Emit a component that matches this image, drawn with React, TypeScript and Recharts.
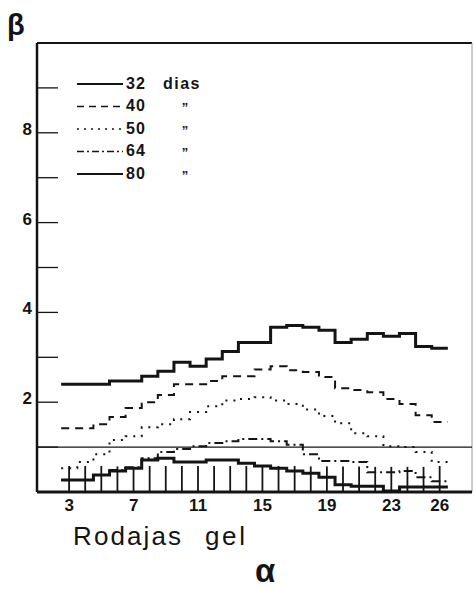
import React from "react";
import {
  Bar,
  ComposedChart,
  Legend,
  Line,
  ReferenceLine,
  XAxis,
  YAxis,
} from "recharts";

// rodajas de gel (eje alfa) y valores beta
const rodajas = [3, 4, 5, 6, 7, 8, 9, 10, 11, 12, 13, 14, 15, 16, 17, 18, 19, 20, 21, 22, 23, 24, 25, 26];
const dias32 = [2.4, 2.4, 2.4, 2.47, 2.47, 2.58, 2.69, 2.89, 2.8, 2.96, 3.13, 3.33, 3.33, 3.67, 3.71, 3.67, 3.6, 3.33, 3.4, 3.53, 3.47, 3.53, 3.24, 3.2];
const dias40 = [1.42, 1.42, 1.51, 1.67, 1.87, 2.0, 2.16, 2.4, 2.4, 2.47, 2.58, 2.58, 2.73, 2.8, 2.71, 2.67, 2.56, 2.31, 2.27, 2.22, 2.07, 1.96, 1.71, 1.56];
const dias50 = [0.53, 0.67, 0.84, 1.16, 1.24, 1.44, 1.51, 1.62, 1.78, 1.91, 2.04, 2.07, 2.11, 2.04, 1.96, 1.84, 1.69, 1.53, 1.31, 1.24, 1.02, 1.0, 0.89, 0.67];
const dias64 = [0.27, 0.27, 0.38, 0.49, 0.55, 0.75, 0.89, 0.96, 1.02, 1.09, 1.13, 1.18, 1.18, 1.13, 1.05, 0.84, 0.69, 0.69, 0.67, 0.44, 0.44, 0.47, 0.33, 0.24];
const dias80 = [0.27, 0.27, 0.38, 0.47, 0.53, 0.71, 0.75, 0.67, 0.67, 0.71, 0.71, 0.64, 0.58, 0.53, 0.47, 0.42, 0.33, 0.16, 0.13, 0.13, 0.02, 0.11, 0.11, 0.11];
const marcas = [0.58, 0.58, 0.58, 0.57, 0.56, 0.58, 0.58, 0.58, 0.58, 0.58, 0.58, 0.58, 0.58, 0.58, 0.58, 0.57, 0.57, 0.57, 0.57, 0.56, 0.56, 0.56, 0.56, 0.58];

const ticksX = [3, 7, 11, 15, 19, 23, 26];
const ticksY = [1, 2, 3, 4, 5, 6, 7, 8, 9];
const etiquetasY = [2, 4, 6, 8];

const FUENTE = '"Liberation Sans", Arial, Helvetica, sans-serif';
const TINTA = "#141414";

const series = [
  { key: "d32", nombre: "32", valores: dias32, dash: undefined, ancho: 3, leyendaDash: undefined, leyendaAncho: 2.2 },
  { key: "d40", nombre: "40", valores: dias40, dash: "8 6", ancho: 2, leyendaDash: "7 5", leyendaAncho: 1.6 },
  { key: "d50", nombre: "50", valores: dias50, dash: "2 6", ancho: 2, leyendaDash: "2 5", leyendaAncho: 1.6 },
  { key: "d64", nombre: "64", valores: dias64, dash: "9 4 2 4", ancho: 2, leyendaDash: "7 3 2 3", leyendaAncho: 1.6 },
  { key: "d80", nombre: "80", valores: dias80, dash: undefined, ancho: 3, leyendaDash: undefined, leyendaAncho: 2.2 },
];

// escalones: borde izquierdo y centro de cada rodaja, mas el borde final
const fila = (x: number, i: number, marca?: number) => {
  const r: Record<string, number | undefined> = { x, marca };
  series.forEach((s) => (r[s.key] = s.valores[i]));
  return r;
};
const data: Record<string, number | undefined>[] = [];
rodajas.forEach((s, i) => {
  data.push(fila(s - 0.5, i));
  data.push(fila(s, i, marcas[i]));
});
data.push(fila(rodajas[rodajas.length - 1] + 0.5, rodajas.length - 1));

const TickY = (props: any) => {
  const { x, y, payload } = props;
  const v = payload.value;
  return (
    <g>
      <line x1={x + 5} x2={x + 26} y1={y} y2={y} stroke={TINTA} strokeWidth={1.3} />
      {etiquetasY.includes(v) && (
        <text
          x={x}
          y={y - 4}
          dy="0.35em"
          textAnchor="end"
          fontSize={17}
          fontWeight={700}
          fontFamily={FUENTE}
          fill={TINTA}
        >
          {v}
        </text>
      )}
    </g>
  );
};

const Leyenda = () => (
  <svg width={160} height={110}>
    {series.map((s, i) => {
      const y = 10 + i * 22.5;
      return (
        <g key={s.key} fontFamily={FUENTE} fontWeight={700} fontSize={16} fill={TINTA}>
          <line
            x1={0}
            x2={46}
            y1={y + 1}
            y2={y + 1}
            stroke={TINTA}
            strokeWidth={s.leyendaAncho}
            strokeDasharray={s.leyendaDash}
          />
          <text x={49} y={y} dy="0.35em" letterSpacing={1}>
            {s.nombre}
          </text>
          {i === 0 ? (
            <text x={86} y={y} dy="0.35em" letterSpacing={1.5}>
              dias
            </text>
          ) : (
            <text x={108} y={y + 2} dy="0.35em" textAnchor="middle" fontSize={13}>
              {"\u201D"}
            </text>
          )}
        </g>
      );
    })}
  </svg>
);

export default function App() {
  return (
    <div style={{ position: "absolute", top: 0, left: 0, width: 474, height: 589, background: "#fff" }}>
      <ComposedChart
        width={474}
        height={589}
        data={data}
        margin={{ top: 43, right: 2, left: 0, bottom: 0 }}
      >
        <XAxis
          dataKey="x"
          type="number"
          domain={[1, 28]}
          ticks={ticksX}
          allowDataOverflow
          height={97}
          tickSize={0}
          tickMargin={7}
          axisLine={{ stroke: TINTA, strokeWidth: 3 }}
          tick={{ fontSize: 17, fontWeight: 700, fill: TINTA, fontFamily: FUENTE }}
        />
        <YAxis
          type="number"
          domain={[0, 10]}
          ticks={ticksY}
          width={37}
          tickSize={0}
          tickMargin={5}
          axisLine={{ stroke: TINTA, strokeWidth: 2.5 }}
          tick={<TickY />}
        />
        <ReferenceLine y={10} stroke={TINTA} strokeWidth={2} />
        <ReferenceLine x={28} stroke="#9a9a9a" strokeWidth={1} />
        <ReferenceLine y={1} stroke={TINTA} strokeWidth={1.2} />
        <Bar dataKey="marca" barSize={1.8} fill={TINTA} isAnimationActive={false} />
        {series.map((s) => (
          <Line
            key={s.key}
            dataKey={s.key}
            type="stepAfter"
            stroke={TINTA}
            strokeWidth={s.ancho}
            strokeDasharray={s.dash}
            dot={false}
            activeDot={false}
            isAnimationActive={false}
          />
        ))}
        <Legend
          content={<Leyenda />}
          layout="horizontal"
          verticalAlign="middle"
          align="center"
          wrapperStyle={{ position: "absolute", top: 73, left: 77, width: 160, height: 110 }}
        />
      </ComposedChart>
      <svg
        width={474}
        height={589}
        style={{ position: "absolute", top: 0, left: 0, pointerEvents: "none" }}
      >
        <text x={7} y={35} fontSize={29} fontWeight={700} fontFamily={FUENTE} fill={TINTA}>
          β
        </text>
        <text x={73} y={545} fontSize={26} fontFamily={FUENTE} fill={TINTA} textLength={108} lengthAdjust="spacing">
          Rodajas
        </text>
        <text x={205} y={545} fontSize={26} fontFamily={FUENTE} fill={TINTA} textLength={40} lengthAdjust="spacing">
          gel
        </text>
        <text x={255} y={582} fontSize={33} fontWeight={700} fontFamily={FUENTE} fill={TINTA}>
          α
        </text>
      </svg>
    </div>
  );
}
